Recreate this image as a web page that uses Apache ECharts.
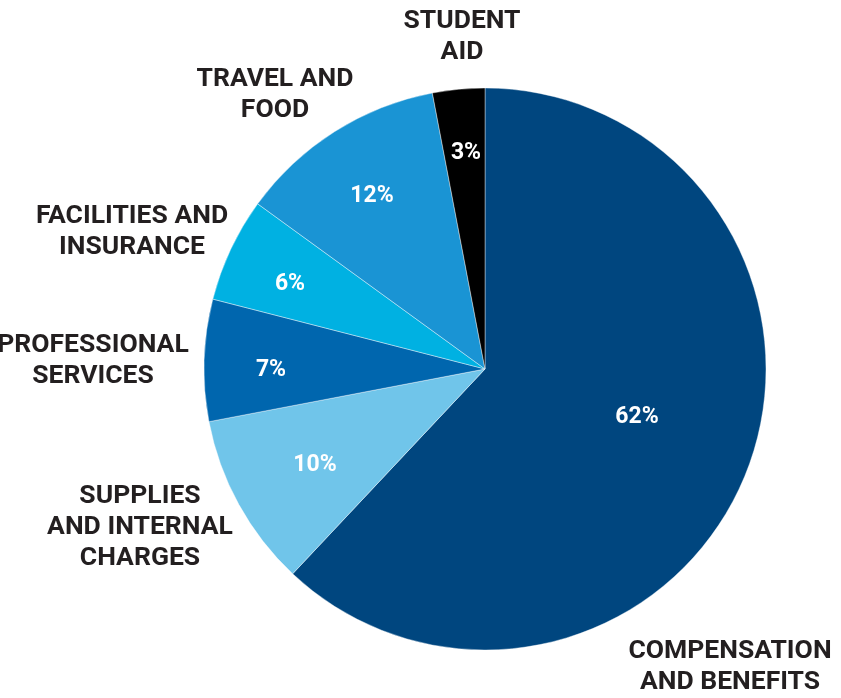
<!DOCTYPE html>
<html>
<head>
  <meta charset="utf-8">
  <title>Expenses</title>
  <script src="https://cdn.jsdelivr.net/npm/echarts@6/dist/echarts.min.js"></script>
  <style>
    html, body { margin: 0; padding: 0; background: #fff; }
    #chart { width: 841px; height: 698px; }
  </style>
</head>
<body>
  <div id="chart"></div>
  <script>
    const categories = ['COMPENSATION\nAND BENEFITS', 'SUPPLIES\nAND INTERNAL\nCHARGES', 'PROFESSIONAL\nSERVICES',
      'FACILITIES AND\nINSURANCE', 'TRAVEL AND\nFOOD', 'STUDENT\nAID'];
    const shares = [62, 10, 7, 6, 12, 3];
    const colors = ['#00467f', '#70c5ea', '#0066ae', '#00b1e2', '#1a94d4', '#000000'];

    // label spots (px)
    const outerPos = [[730, 667], [140, 527], [93, 361], [132, 232], [275, 95], [462, 37]];
    const innerPos = [[637, 417], [315, 465], [271, 370], [290, 284], [372, 196], [466, 153]];

    const items = categories.map((c, i) => ({
      name: c,
      value: shares[i],
      itemStyle: { color: colors[i] }
    }));

    const chart = echarts.init(document.getElementById('chart'));
    const base = {
      type: 'pie',
      center: [485, 369],
      radius: 281,
      startAngle: 90,
      clockwise: true,
      animation: false,
      silent: true,
      labelLine: { show: false }
    };

    chart.setOption({
      series: [
        Object.assign({}, base, {
          data: items,
          itemStyle: { borderColor: '#fff', borderWidth: 0.4 },
          label: {
            show: true,
            position: 'inside',
            formatter: '{c}%',
            color: '#fff',
            fontFamily: 'Roboto',
            fontWeight: 'bold',
            fontSize: 23
          },
          labelLayout: p => ({ x: innerPos[p.dataIndex][0], y: innerPos[p.dataIndex][1], align: 'center', verticalAlign: 'middle' })
        }),
        Object.assign({}, base, {
          data: items.map(d => ({ name: d.name, value: d.value, itemStyle: { color: 'rgba(0,0,0,0)' } })),
          label: {
            show: true,
            position: 'outside',
            formatter: '{b}',
            color: '#231f20',
            fontFamily: 'Roboto',
            fontWeight: 'bold',
            fontSize: 26.5,
            lineHeight: 31,
            align: 'center',
            overflow: 'none',
            width: 260
          },
          labelLayout: p => ({ x: outerPos[p.dataIndex][0], y: outerPos[p.dataIndex][1], align: 'center', verticalAlign: 'middle' })
        })
      ]
    });
  </script>
</body>
</html>
